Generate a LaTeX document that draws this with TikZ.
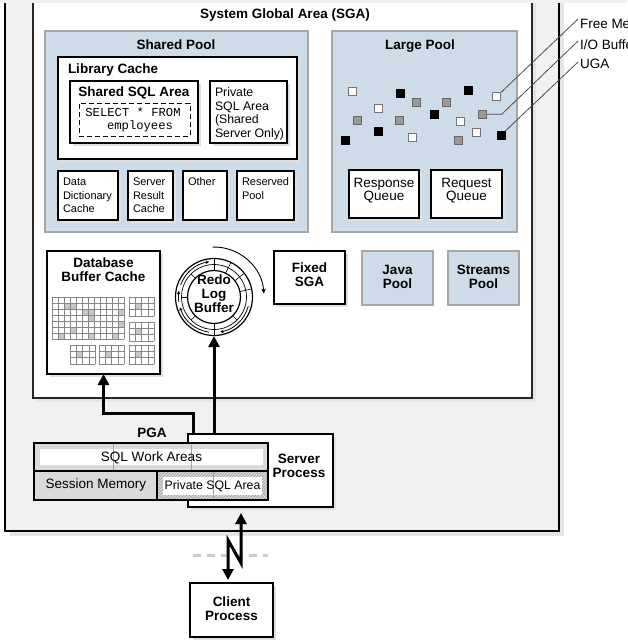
\documentclass[tikz,border=0pt]{standalone}
\usepackage{fontspec}
\setmainfont{Liberation Sans}
\setmonofont{Liberation Mono}
\usetikzlibrary{arrows.meta,patterns,calc}
\definecolor{poolblue}{RGB}{205,220,232}
\definecolor{pooledge}{RGB}{166,166,166}
\definecolor{outerfill}{RGB}{241,241,241}
\definecolor{pgagray}{RGB}{218,218,218}
\definecolor{gridc}{RGB}{135,135,135}
\newcommand\fbt{\fontsize{13.5}{14}\selectfont\bfseries}
\newcommand\fnm{\fontsize{13.5}{13}\selectfont}
\newcommand\fsm{\fontsize{11}{13.5}\selectfont}
\newcommand\fps{\fontsize{12.3}{13.6}\selectfont}
\newcommand\fmo{\fontsize{12.2}{13}\selectfont\ttfamily}
\newcommand\cachegrid[2]{%
  \begin{scope}[shift={(#1,#2)}]
    \fill[gray!45] (6.25,6.333) rectangle (12.5,12.667);
    \foreach \i in {0,...,4} \draw[gridln] ({\i*6.25},0) -- ({\i*6.25},19);
    \foreach \j in {0,...,3} \draw[gridln] (0,{\j*6.333}) -- (25,{\j*6.333});
  \end{scope}}
\begin{document}
\begin{tikzpicture}[x=1pt,y=-1pt,
  area/.style={rectangle,inner sep=0pt,outer sep=0pt,draw=black,line width=1.3pt,fill=white},
  pool/.style={rectangle,inner sep=0pt,outer sep=0pt,draw=pooledge,line width=2.5pt,fill=poolblue},
  dropsh/.style={preaction={draw=none,fill=black!12,transform canvas={xshift=3pt,yshift=-3pt}}},
  txt/.style={inner sep=0pt,outer sep=0pt},
  gridln/.style={draw=gridc,line width=0.5pt},
  flow/.style={line width=3pt,-{Triangle[length=11pt,width=11pt]}},
  leader/.style={draw=black!70,line width=0.8pt},
  sqw/.style={rectangle,inner sep=0pt,minimum size=8pt,fill=white,draw=black!55,line width=0.8pt},
  sqg/.style={rectangle,inner sep=0pt,minimum size=8pt,fill=black!40,draw=black!60,line width=0.8pt},
  sqb/.style={rectangle,inner sep=0pt,minimum size=8pt,fill=black,draw=black,line width=0.8pt},
  ringarrow/.style={line width=0.8pt,-{Stealth[length=3.5pt,width=3.5pt]}}]
\useasboundingbox (0,0) rectangle (627,640);

% outer server box and SGA
\node[rectangle,inner sep=0pt,outer sep=0pt,draw=black,line width=1.5pt,fill=outerfill,
  preaction={draw=none,fill=black!10,transform canvas={xshift=5pt,yshift=-5pt}},
  minimum width=554pt,minimum height=551pt] (outer) at (282,255.5) {};
\node[rectangle,inner sep=0pt,outer sep=0pt,draw=black!85,line width=2pt,fill=white,
  preaction={draw=none,fill=black!10,transform canvas={xshift=4pt,yshift=-4pt}},
  minimum width=499pt,minimum height=418pt] (sga) at (282.5,189) {};
\node[txt,anchor=base,font=\fbt] (sgat) at (285,18) {System Global Area (SGA)};

% Shared pool
\node[pool,minimum width=263pt,minimum height=201pt] (sp) at (176.5,131.5) {};
\node[txt,anchor=base,font=\fbt] (spt) at (176,49) {Shared Pool};
\node[area,dropsh,minimum width=239pt,minimum height=102pt] (lc) at (177.5,108) {};
\node[txt,anchor=base west,font=\fbt] (lct) at (68,73) {Library Cache};
\node[area,dropsh,minimum width=128pt,minimum height=62pt] (ssa) at (134,112) {};
\node[txt,anchor=base,font=\fbt] (ssat) at (134,96.5) {Shared SQL Area};
\node[rectangle,inner sep=0pt,draw=black,line width=0.9pt,dash pattern=on 5pt off 3pt,
  minimum width=111pt,minimum height=33pt] (sqlbox) at (134.5,119.5) {};
\node[txt,anchor=base,font=\fmo] (sel1) at (133,116.5) {SELECT * FROM};
\node[txt,anchor=base,font=\fmo] (sel2) at (140,129.5) {employees};
\node[area,dropsh,minimum width=77pt,minimum height=62pt] (psa) at (248.5,112) {};
\node[txt,anchor=north west,align=left,font=\fps] (psat) at (215,87.5) {Private\\SQL Area\\(Shared\\Server Only)};
\node[area,dropsh,minimum width=60pt,minimum height=49pt] (dd) at (88,195.5) {};
\node[txt,anchor=north west,align=left,font=\fsm] (ddt) at (63,178) {Data\\Dictionary\\Cache};
\node[area,dropsh,minimum width=45pt,minimum height=49pt] (src) at (150.5,195.5) {};
\node[txt,anchor=north west,align=left,font=\fsm] (srct) at (133,178) {Server\\Result\\Cache};
\node[area,dropsh,minimum width=44pt,minimum height=49pt] (oth) at (205,195.5) {};
\node[txt,anchor=north west,align=left,font=\fsm] (otht) at (188,178) {Other};
\node[area,dropsh,minimum width=57pt,minimum height=49pt] (res) at (265.5,195.5) {};
\node[txt,anchor=north west,align=left,font=\fsm] (rest) at (242,178) {Reserved\\Pool};

% Large pool
\node[pool,minimum width=185pt,minimum height=201pt] (lp) at (424.5,131.5) {};
\node[txt,anchor=base,font=\fbt] (lpt) at (420,49.5) {Large Pool};
\node[area,dropsh,minimum width=70pt,minimum height=48pt] (rq) at (384,194) {};
\node[txt,anchor=north,align=center,font=\fnm] (rqt) at (384,178) {Response\\Queue};
\node[area,dropsh,minimum width=71pt,minimum height=48pt] (rqq) at (466.5,194) {};
\node[txt,anchor=north,align=center,font=\fnm] (rqqt) at (466.5,178) {Request\\Queue};
\foreach \x/\y/\s [count=\i] in {352.7/91.7/sqw, 378.3/108.3/sqw, 412.7/137.7/sqw, 460/121.7/sqw, 476/132.7/sqw,
   400.3/93.3/sqb, 468/90.7/sqb, 434.3/114/sqb, 345.7/140/sqb, 378.3/131/sqb,
   416/102.3/sqg, 446/102.3/sqg, 357.3/120/sqg, 399.3/120/sqg, 458.7/140.7/sqg}
  \node[\s] (sqa\i) at (\x,\y) {};
\node[sqw] (sqF) at (496.7,96.7) {};
\node[sqg] (sqI) at (482.3,114.3) {};
\node[sqb] (sqU) at (501,135.3) {};
\node[txt,anchor=base west,font=\fnm] (lblF) at (580,28) {Free Memory};
\node[txt,anchor=base west,font=\fnm] (lblI) at (580,49.5) {I/O Buffer Area};
\node[txt,anchor=base west,font=\fnm] (lblU) at (580,68.5) {UGA};
\draw[leader] (sqF.north east) -- ($(lblF.base west)+(-2,-9)$);
\draw[leader] (sqI.east) -- ++(15,0) -- ($(lblI.base west)+(-2,-8.5)$);
\draw[leader] (sqU.north east) -- ($(lblU.base west)+(-2,-6.5)$);

% Database buffer cache
\node[area,dropsh,minimum width=113pt,minimum height=123pt] (dbc) at (103.5,312.5) {};
\node[txt,anchor=north,align=center,font=\fbt] (dbct) at (103.5,258) {Database\\Buffer Cache};
\begin{scope}[shift={(52,297)}]
  \foreach \c/\r in {2/1,3/1,5/2,6/2,6/3,11/2,11/4,3/5,1/6,6/6,10/6}
    \fill[gray!45] ({\c*6},{\r*6}) rectangle ++(6,6);
  \foreach \i in {0,...,12} \draw[gridln] ({\i*6},0) -- ({\i*6},42);
  \foreach \j in {0,...,7} \draw[gridln] (0,{\j*6}) -- (72,{\j*6});
\end{scope}
\cachegrid{129}{297}
\cachegrid{129}{322}
\cachegrid{70}{345}
\cachegrid{99}{345}
\cachegrid{129}{345}

% Redo log buffer
\node[circle,draw=black,line width=1.2pt,fill=white,minimum size=77pt,inner sep=0pt] (redo) at (214,297) {};
\draw[line width=0.7pt] (redo.center) circle[radius=32.5];
\draw[line width=1.2pt] (redo.center) circle[radius=26.5];
\foreach \t in {-90,-64,-38,-12,90}
  \draw[line width=0.6pt] ([shift={(redo.center)}]\t:26.5) -- ([shift={(redo.center)}]\t:38.5);
\foreach \t in {45,135,180,-135}
  \draw[line width=0.6pt] ([shift={(redo.center)}]\t:26.5) -- ([shift={(redo.center)}]\t:32.5);
\foreach \a/\b in {15/80,98/163,172/190,200/262}
  \draw[ringarrow] ([shift={(redo.center)}]\a:35.5) arc[start angle=\a,end angle=\b,radius=35.5];
\draw[line width=0.9pt,-{Stealth[length=5pt,width=4.5pt]}] ([shift={(redo.center)}]-92:50) arc[start angle=-92,end angle=-4,radius=50];
\node[txt,anchor=north,align=center,font=\fbt] (redot) at (214,275) {Redo\\Log\\Buffer};

% Fixed SGA, Java pool, Streams pool
\node[area,dropsh,minimum width=71pt,minimum height=53pt] (fix) at (309.5,277.5) {};
\node[txt,anchor=north,align=center,font=\fbt] (fixt) at (309.5,263) {Fixed\\SGA};
\node[pool,minimum width=71pt,minimum height=54pt] (java) at (397.5,278) {};
\node[txt,anchor=north,align=center,font=\fbt] (javat) at (397.5,265) {Java\\Pool};
\node[pool,minimum width=71pt,minimum height=54pt] (strm) at (483.5,278) {};
\node[txt,anchor=north,align=center,font=\fbt] (strmt) at (483.5,265) {Streams\\Pool};

% Server process and PGA
\node[area,dropsh,line width=1.2pt,minimum width=145pt,minimum height=73pt] (srv) at (260.5,470.5) {};
\node[txt,anchor=north,align=center,font=\fbt] (srvt) at (299,454) {Server\\Process};
\node[rectangle,inner sep=0pt,outer sep=0pt,fill=pgagray,minimum width=234pt,minimum height=57pt] (pga) at (151,471.5) {};
\node[rectangle,inner sep=0pt,fill=white,minimum width=223pt,minimum height=16pt] (sqlw) at (151.5,457) {};
\node[rectangle,inner sep=0pt,fill=white,pattern=north east lines,pattern color=gray!80,minimum width=111pt,minimum height=29pt] (pgap) at (212.5,485.5) {};
\node[rectangle,inner sep=0pt,fill=white,minimum width=99pt,minimum height=18pt] (pgapw) at (212.5,486) {};
\draw[draw=gray!75,line width=0.8pt] (113,443) -- (113,471) (191,443) -- (191,471) (213,471) -- (213,500);
\draw[line width=1.2pt] (34,471) -- (268,471) (157,471) -- (157,500);
\draw[line width=1.2pt] (pga.north west) rectangle (pga.south east);
\node[txt,anchor=base,font=\fbt] (pgat) at (152,437.5) {PGA};
\node[txt,anchor=base,font=\fnm] (sqlwt) at (151.5,461.5) {SQL Work Areas};
\node[txt,anchor=base,font=\fnm] (sesst) at (96,488) {Session Memory};
\node[txt,anchor=base,font=\fps] (pgapt) at (212.5,489) {Private SQL Area};

% connectors
\draw[flow] ($(srv.north west)+(5,0)$) -- ++(0,-21) -| (dbc.south);
\draw[flow] (srv.north -| redo.south) -- (redo.south);

% client process
\node[area,dropsh,line width=1.2pt,minimum width=83pt,minimum height=54pt] (cp) at (231.5,610) {};
\node[txt,anchor=north,align=center,font=\fbt] (cpt) at (231.5,597) {Client\\Process};
\draw[line width=3pt,gray!40,dash pattern=on 8pt off 6pt] (193,555) -- (268,555);
\draw[line width=3pt,{Triangle[length=11pt,width=11pt]}-{Triangle[length=11pt,width=11pt]}]
  ($(srv.south)+(-19.5,6)$) -- ++(0,50) -- ++(-13,-23) -- ($(cp.north)+(-3.5,-3)$);

\fill[outerfill] (0,0) rectangle (627,3);
\end{tikzpicture}
\end{document}
